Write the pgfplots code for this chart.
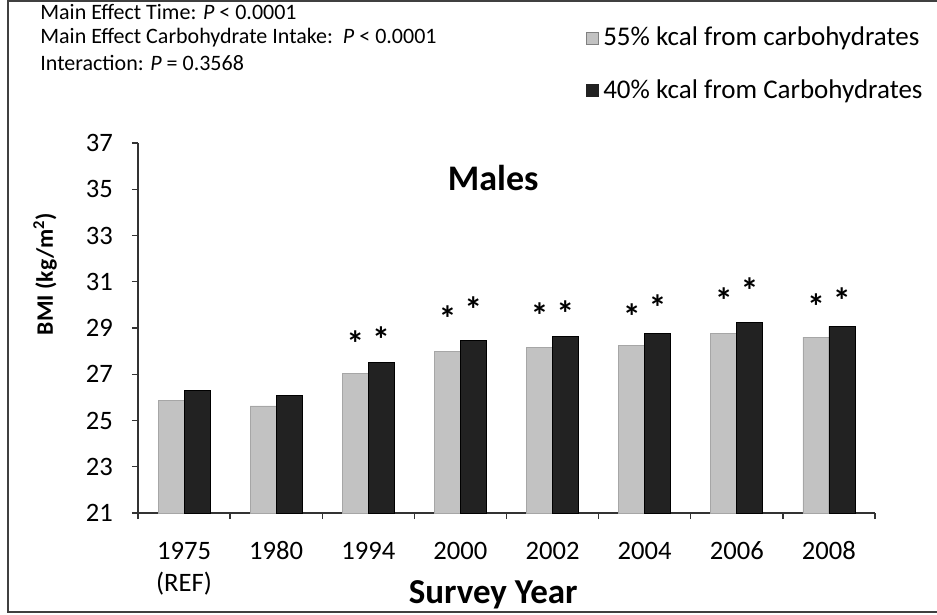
\documentclass[border=0pt]{standalone}
\usepackage{pgfplots}
\pgfplotsset{compat=1.18}
\usepackage{fontspec}
\setmainfont{Carlito}

\definecolor{lightbar}{HTML}{C2C2C2}
\definecolor{darkbar}{HTML}{222222}

\begin{document}
\begin{tikzpicture}
\begin{axis}[
    width=368.5pt, height=185pt,
    scale only axis,
    xmin=-0.5, xmax=7.5,
    ymin=21, ymax=37,
    ytick={21,23,...,37},
    xtick={-0.5,0.5,...,7.5},
    xticklabels={{\begin{tabular}[t]{@{}c@{}}1975\\(REF)\end{tabular}},1980,1994,2000,2002,2004,2006,2008},
    x tick label as interval,
    xticklabel style={anchor=base, yshift=-20pt,
        font=\fontsize{13.3}{16}\selectfont},
    yticklabel style={font=\fontsize{13.3}{16}\selectfont, xshift=-6pt},
    /pgf/number format/assume math mode=true,
    axis x line*=bottom, axis y line*=left,
    axis line style={black!80, line width=0.7pt},
    tick align=outside, major tick length=3pt,
    tick style={black!80, line width=0.7pt},
    title={\bfseries Males},
    title style={at={(axis description cs:0.482,0.873)}, anchor=center,
        font=\fontsize{18}{20}\selectfont},
    xlabel={\bfseries Survey Year},
    xlabel style={at={(axis description cs:0.482,-0.222)}, anchor=center,
        font=\fontsize{17.5}{20}\selectfont},
    ylabel={\bfseries BMI (kg/m\textsuperscript{2})},
    ylabel style={at={(axis description cs:-0.126,0.646)}, anchor=center,
        font=\fontsize{11.8}{14}\selectfont},
    legend style={at={(axis description cs:0.608,1.325)}, anchor=north west,
        draw=none, fill=none, font=\fontsize{13.5}{16}\selectfont,
        row sep=11.5pt, inner sep=0pt},
    legend cell align=left,
]
\addplot[ybar, bar width=13pt, bar shift=-6.5pt, fill=lightbar, draw=gray!70,
    legend image code/.code={\fill[lightbar, draw=gray] (0pt,-3pt) rectangle (6pt,3pt);}]
    coordinates {(0,25.85)(1,25.63)(2,27.04)(3,28.0)(4,28.15)(5,28.24)(6,28.76)(7,28.6)};
\addplot[ybar, bar width=13pt, bar shift=6.5pt, fill=darkbar, draw=black,
    legend image code/.code={\fill[darkbar] (0pt,-3pt) rectangle (6pt,3pt);}]
    coordinates {(0,26.3)(1,26.09)(2,27.52)(3,28.48)(4,28.63)(5,28.76)(6,29.23)(7,29.07)};
\addplot[only marks, mark=text, text mark={*}, text mark as node=true,
    text mark style={font=\fontsize{18}{18}\selectfont\bfseries, inner sep=0pt, yshift=-3pt}, forget plot]
    coordinates {(1.86,28.6)(2.86,29.66)(3.86,29.8)(4.86,29.75)(5.86,30.46)(6.86,30.17)};
\addplot[only marks, mark=text, text mark={*}, text mark as node=true,
    text mark style={font=\fontsize{18}{18}\selectfont\bfseries, inner sep=0pt, yshift=-3pt}, forget plot]
    coordinates {(2.14,28.74)(3.14,30.07)(4.14,29.89)(5.14,30.14)(6.14,30.86)(7.14,30.46)};
\legend{55\% kcal from carbohydrates, 40\% kcal from Carbohydrates}
\end{axis}
\begin{scope}[font=\fontsize{11}{13}\selectfont]
\node[anchor=west, inner sep=0pt] at (-49pt,250.5pt) {Main Effect Time: \textit{P} < 0.0001};
\node[anchor=west, inner sep=0pt] at (-49pt,237.5pt) {Main Effect Carbohydrate Intake:\ \ \textit{P} < 0.0001};
\node[anchor=west, inner sep=0pt] at (-49pt,225pt) {Interaction: \textit{P} = 0.3568};
\end{scope}
\pgfresetboundingbox
\path[use as bounding box] (-69pt,-51pt) rectangle (399.5pt,256.5pt);
\draw[black!75, line width=0.8pt] (405pt,256pt) -- (-65pt,256pt) -- (-65pt,-49.5pt) -- (405pt,-49.5pt);
\end{tikzpicture}
\end{document}
